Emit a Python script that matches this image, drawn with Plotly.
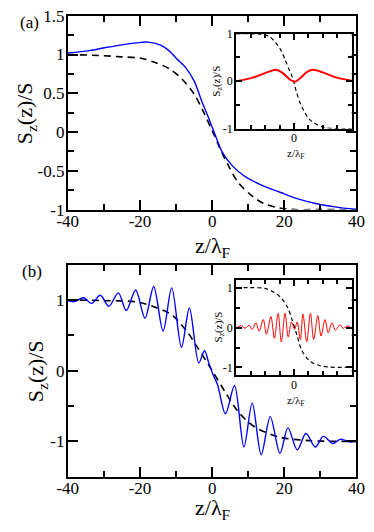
import plotly.graph_objects as go

# ---- data ----
# panel (a), main plot
a_dash_z = [-40, -30, -25, -20, -16, -12, -8.5, -5, -2.4, 0, 2.4, 4.6, 7.2, 10.7, 14.2, 18.6, 23, 30, 40]
a_dash_s = [1.0, 0.985, 0.97, 0.955, 0.90, 0.82, 0.69, 0.49, 0.26, 0.02, -0.235, -0.44, -0.65, -0.81, -0.92, -0.98, -1.0, -1.0, -1.0]
a_blue_z = [-40, -34, -29.5, -25, -21, -17.8, -14.3, -12, -9.9, -7.5, -5, -2.9, -0.7, 1.1, 2.8, 5.5, 9, 14, 19, 24, 29, 34, 40]
a_blue_s = [1.02, 1.05, 1.09, 1.125, 1.15, 1.16, 1.12, 1.05, 0.95, 0.84, 0.66, 0.40, 0.15, -0.07, -0.26, -0.43, -0.57, -0.69, -0.78, -0.865, -0.925, -0.965, -1.0]

# panel (a), inset
a_in_dash_z = [-40, -30, -23.6, -17, -12.6, -9, -6, -3.5, -1.6, 0, 1.6, 4.5, 7.1, 10, 13.7, 20.3, 27, 40]
a_in_dash_s = [1.0, 1.0, 0.99, 0.94, 0.81, 0.65, 0.44, 0.25, 0.12, -0.03, -0.22, -0.48, -0.64, -0.78, -0.88, -0.97, -1.0, -1.0]
a_in_red_z = [-40, -28, -19.2, -12.6, -8.2, -2.7, 0.5, 3.8, 9.3, 13.3, 20.3, 29, 40]
a_in_red_s = [0.0, 0.08, 0.18, 0.24, 0.18, 0.03, -0.01, 0.05, 0.2, 0.24, 0.18, 0.08, 0.01]

# panel (b), main plot
b_dash_z = [-40, -30, -20.8, -16, -11.2, -6.8, -4.2, 0, 3.7, 7.2, 11.6, 18.6, 27, 40]
b_dash_s = [1.0, 0.99, 0.97, 0.9, 0.79, 0.54, 0.34, 0.0, -0.31, -0.58, -0.79, -0.94, -0.99, -1.0]
b_blue_z = [-40, -38.3, -35.6, -33.4, -31, -28.6, -26, -23.8, -21.2, -18.6, -16.2, -13.6, -11.2, -8.5,
            -6.3, -3.7, -2.1, -1.0, 0.2, 1.5, 3.7, 6.2, 8.8, 11.1, 13.6, 16.1, 18.8, 21.0, 23.6, 26.0,
            28.6, 30.8, 33.4, 35.6, 38.2, 40]
b_blue_s = [0.99, 0.975, 1.03, 0.95, 1.065, 0.91, 1.10, 0.85, 1.14, 0.74, 1.19, 0.56, 1.17, 0.33,
            0.885, 0.11, 0.28, 0.12, -0.05, -0.2, -0.61, -0.21, -1.08, -0.46, -1.19, -0.65, -1.17, -0.81, -1.12, -0.89,
            -1.08, -0.93, -1.03, -0.97, -1.01, -1.0]

# panel (b), inset
b_in_dash_z = [-40, -30, -20, -13.2, -8.8, -4.4, -1.1, 2.2, 5.5, 11, 17.6, 24, 40]
b_in_dash_s = [1.0, 1.0, 0.98, 0.87, 0.74, 0.5, 0.17, -0.21, -0.58, -0.84, -0.95, -0.99, -1.0]
b_in_red_z = [-39.6, -36.3, -34, -31.2, -29, -26.4, -24.2, -21.3, -19.1, -16, -13.6, -11, -8.8, -6.2,
              -4, -1.8, 0.4, 2.2, 4.4, 6.2, 8.8, 11.4, 13.6, 16.5, 18.7, 21.5, 23.7, 26.4, 28.6,
              31.9, 34, 37, 39.6]
b_in_red_s = [0.0, 0.05, -0.02, 0.06, -0.05, 0.12, -0.09, 0.2, -0.17, 0.28, -0.27, 0.36, -0.36, 0.36,
              -0.24, 0.14, -0.05, 0.14, -0.3, 0.34, -0.36, 0.36, -0.3, 0.3, -0.21, 0.2, -0.13, 0.12, -0.07,
              0.07, -0.02, 0.04, -0.01]

x_ticks = [-40, -20, 0, 20, 40]
x_ticktext = ["-40", "-20", "0", "20", "40"]
ya_ticks = [-1, -0.5, 0, 0.5, 1, 1.5]
ya_ticktext = ["-1", "-0.5", "0", "0.5", "1", "1.5"]
yb_ticks = [-1, 0, 1]
yb_ticktext = ["-1", "0", "1"]

W, H = 374, 532
FONT = "'Times New Roman', 'Liberation Serif', 'DejaVu Serif', serif"
BLUE = "#0000ff"
RED = "#ff0000"
DASH = "7px,5px"


def px(x):
    return x / W


def py(y):
    return 1 - y / H


def smooth(z, s, axes, color, width, dash=None):
    return go.Scatter(x=z, y=s, mode="lines", xaxis=axes[0], yaxis=axes[1],
                      line=dict(color=color, width=width, dash=dash, shape="spline", smoothing=0.9),
                      hoverinfo="skip", showlegend=False)


fig = go.Figure()
fig.add_trace(smooth(a_dash_z, a_dash_s, ("x", "y"), "black", 1.6, DASH))
fig.add_trace(smooth(a_blue_z, a_blue_s, ("x", "y"), BLUE, 1.4))
fig.add_trace(smooth(a_in_dash_z, a_in_dash_s, ("x2", "y2"), "black", 1.2, "4px,3px"))
fig.add_trace(smooth(a_in_red_z, a_in_red_s, ("x2", "y2"), RED, 2))
fig.add_trace(smooth(b_dash_z, b_dash_s, ("x3", "y3"), "black", 1.6, DASH))
fig.add_trace(smooth(b_blue_z, b_blue_s, ("x3", "y3"), BLUE, 1.4))
fig.add_trace(smooth(b_in_dash_z, b_in_dash_s, ("x4", "y4"), "black", 1.2, "4px,3px"))
fig.add_trace(smooth(b_in_red_z, b_in_red_s, ("x4", "y4"), RED, 1))


def axis(dom, rng, tv, tt, minor_dtick, anchor, size, ticklen, minorlen, standoff):
    return dict(domain=dom, range=rng, anchor=anchor, tickmode="array", tickvals=tv, ticktext=tt,
                ticks="inside", ticklen=ticklen, tickwidth=1.5, tickcolor="black",
                minor=dict(ticks="inside", ticklen=minorlen, tickwidth=1.5, tickcolor="black",
                           tickmode="linear", tick0=0, dtick=minor_dtick),
                showline=True, linewidth=2, linecolor="black", mirror="ticks",
                showgrid=False, zeroline=False, ticklabelstandoff=standoff,
                tickfont=dict(family=FONT, size=size, color="black"))


main_x = [px(60), px(365)]
in_x = [px(238), px(360)]
fig.update_layout(
    width=W, height=H,
    margin=dict(l=0, r=0, t=0, b=0),
    paper_bgcolor="white", plot_bgcolor="white",
    showlegend=False,
    font=dict(family=FONT, color="black"),
    xaxis=axis(main_x, [-40, 40], x_ticks, x_ticktext, 10, "y", 17, 10, 6, -5),
    yaxis=axis([py(208), py(7)], [-1, 1.5], ya_ticks, ya_ticktext, 0.25, "x", 17, 10, 6, -2),
    xaxis2=axis(in_x, [-40, 40], [0], ["0"], 10, "y2", 12, 6, 4, -3),
    yaxis2=axis([py(124), py(25.7)], [-1, 1], yb_ticks, yb_ticktext, 0.5, "x2", 12, 6, 4, -1),
    xaxis3=axis(main_x, [-40, 40], x_ticks, x_ticktext, 10, "y3", 17, 10, 6, -5),
    yaxis3=axis([py(485), py(265)], [-1.5, 1.5], yb_ticks, yb_ticktext, 0.5, "x3", 17, 10, 6, -2),
    xaxis4=axis(in_x, [-40, 40], [0], ["0"], 10, "y4", 12, 6, 4, -3),
    yaxis4=axis([py(380), py(280.7)], [-1.2, 1.2], yb_ticks, yb_ticktext, 0.5, "x4", 12, 6, 4, -1),
)

ytitle = "S<sub>z</sub>(z)/S"
xtitle = "z/λ<sub>F</sub>"
notes = [
    # (text, x, y, size, angle)
    ("(a)", 20, 14, 17, 0),
    ("(b)", 22, 272, 17, 0),
    (ytitle, 16, 108, 22, -90),
    (xtitle, 213, 247, 22, 0),
    (ytitle, 27, 376, 22, -90),
    (xtitle, 213, 518, 22, 0),
    (ytitle, 218, 75, 11, -90),
    (xtitle, 301, 150, 11, 0),
    (ytitle, 220, 330, 11, -90),
    (xtitle, 301, 406, 11, 0),
]
for text, x, y, size, angle in notes:
    fig.add_annotation(text=text, x=px(x), y=py(y), xref="paper", yref="paper",
                       showarrow=False, textangle=angle, xanchor="center", yanchor="middle",
                       font=dict(family=FONT, size=size, color="black"))

fig.write_html("out.html", config={"displayModeBar": False},
               post_script="document.body.style.margin='0';")
